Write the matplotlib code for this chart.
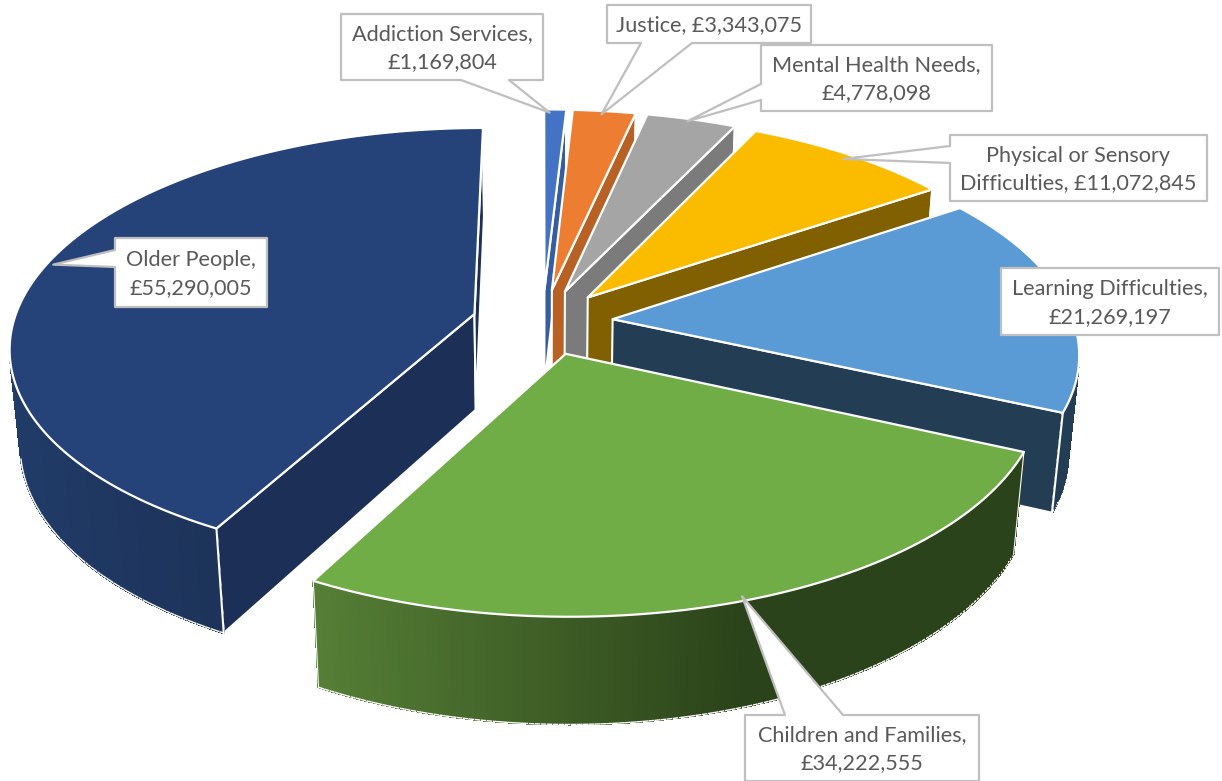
"""Exploded 3D pie of spend by care group, drawn with polygons in a pixel-sized axes."""
import matplotlib
matplotlib.use("Agg")
import matplotlib.pyplot as plt
import numpy as np
from matplotlib.colors import to_rgb
from matplotlib.patches import Polygon

plt.rcParams["font.family"] = ["Lato", "DejaVu Sans"]

categories = ["Addiction Services", "Justice", "Mental Health Needs",
              "Physical or Sensory\nDifficulties", "Learning Difficulties",
              "Children and Families", "Older People"]
values = [1169804, 3343075, 4778098, 11072845, 21269197, 34222555, 55290005]
top_colours = ["#4472c4", "#ed7d31", "#a5a5a5", "#fbbc00", "#5b9bd5", "#70ad47", "#254279"]
face_colours = ["#355d9f", "#b86125", "#7b7b7b", "#806000", "#233e54", "#2b431a", "#1b2f57"]
# wall shading: colour at the left end, colour at the right end, screen x range
wall_shades = [None, None, None, None, None,
               ("#567f36", "#2b431a", 318, 740),
               ("#213c69", "#1d3359", 15, 220)]

# view of the pie, in pixels
CX, CY = 542.5, 322
RX, RY = 461, 215
PERSP, DROP_PERSP = 0.144, 0.02
EXPLODE = 0.153
DEPTH = 98


def project(theta, r, mid, z=0.0):
    """Disc point (clockwise from the back) of a slice pushed out along its mid angle."""
    px = r * np.sin(theta) + EXPLODE * np.sin(mid)
    py = -r * np.cos(theta) - EXPLODE * np.cos(mid)
    f = 1 / (1 - PERSP * py + DROP_PERSP * z)
    return np.column_stack([CX + RX * px * f, CY + RY * py * f + DEPTH * z * f])


def area(points):
    p = np.asarray(points)
    q = np.roll(p, -1, axis=0)
    return 0.5 * np.sum(p[:, 0] * q[:, 1] - q[:, 0] * p[:, 1])


def mix(shade, x):
    c1, c2, x1, x2 = shade
    t = np.clip((x - x1) / (x2 - x1), 0, 1)
    return tuple((1 - t) * a + t * b for a, b in zip(to_rgb(c1), to_rgb(c2)))


fig = plt.figure(figsize=(12.22, 7.81), dpi=100)
ax = fig.add_axes([0, 0, 1, 1])
ax.set_xlim(0, 1222)
ax.set_ylim(781, 0)
ax.axis("off")

edges = np.cumsum([0] + values) / sum(values) * 2 * np.pi
mids = (edges[:-1] + edges[1:]) / 2

# back slices first, the front one last
for i in [0, 1, 2, 3, 4, 6, 5]:
    a0, a1, mid = edges[i], edges[i + 1], mids[i]
    arc = np.linspace(a0, a1, max(8, int((a1 - a0) * 90)))
    one = np.ones_like(arc)
    rim_top = project(arc, one, mid * one)
    rim_low = project(arc, one, mid * one, 1.0)
    apex_top = project(np.array([a0]), np.array([0.0]), np.array([mid]))[0]
    apex_low = project(np.array([a0]), np.array([0.0]), np.array([mid]), 1.0)[0]

    # only the faces that look towards the viewer
    for k, sign in ((0, -1), (-1, 1)):
        quad = [apex_top, rim_top[k], rim_low[k], apex_low]
        if area(quad) * sign > 0:
            ax.add_patch(Polygon(quad, closed=True, facecolor=face_colours[i],
                                 edgecolor="white", lw=1.5, joinstyle="round"))
    for j in range(len(arc) - 1):
        quad = [rim_top[j], rim_top[j + 1], rim_low[j + 1], rim_low[j]]
        if area(quad) >= 0:
            continue
        shade = wall_shades[i]
        col = mix(shade, rim_low[j, 0]) if shade else face_colours[i]
        ax.add_patch(Polygon(quad, closed=True, facecolor=col, edgecolor=col, lw=0.8,
                             antialiased=False))
        ax.plot(rim_low[j:j + 2, 0], rim_low[j:j + 2, 1], color="white", lw=1.0, zorder=1)
    for k, sign in ((0, -1), (-1, 1)):
        quad = [apex_top, rim_top[k], rim_low[k], apex_low]
        lw = 1.5 if area(quad) * sign > 0 else 0.8
        ax.plot([rim_top[k, 0], rim_low[k, 0]], [rim_top[k, 1], rim_low[k, 1]],
                color="white", lw=lw, zorder=1)
    ax.add_patch(Polygon(np.vstack([apex_top, rim_top]), closed=True, facecolor=top_colours[i],
                         edgecolor="white", lw=1.6, joinstyle="round"))

# label boxes: left, top, right, bottom, side the pointer leaves from, pointer base,
# pointer reach along the radius, pointer position across the slice
boxes = [
    (341, 14, 543, 80, "bottom", (461, 509), 0.98, 0.25),
    (607, 5, 811, 43, "bottom", (641, 692), 0.98, 0.47),
    (761, 45, 992, 111, "left", (84, 100), 0.985, 0.47),
    (950, 135, 1207, 201, "left", (146, 163), 0.97, 0.5),
    (1001, 268, 1219, 335, None, None, 0.0, 0.5),
    (745, 715, 979, 781, "top", (785, 843), 0.985, 0.5),
    (115, 238, 267, 307, "left", (250, 267), 0.985, 0.5),
]
for i, (x0, y0, x1, y1, side, base, reach, across) in enumerate(boxes):
    if side is None:
        outline = [(x0, y0), (x1, y0), (x1, y1), (x0, y1)]
    else:
        at = edges[i] + across * (edges[i + 1] - edges[i])
        tip = tuple(project(np.array([at]), np.array([reach]), np.array([mids[i]]))[0])
        if side == "bottom":
            outline = [(x0, y0), (x1, y0), (x1, y1), (base[1], y1), tip, (base[0], y1), (x0, y1)]
        elif side == "top":
            outline = [(x0, y0), (base[0], y0), tip, (base[1], y0), (x1, y0), (x1, y1), (x0, y1)]
        else:
            outline = [(x0, y0), (x1, y0), (x1, y1), (x0, y1), (x0, base[1]), tip, (x0, base[0])]
    ax.add_patch(Polygon(outline, closed=True, facecolor="white", edgecolor="#bfbfbf",
                         lw=1.6, joinstyle="round", zorder=5))
    name = categories[i]
    money = f"£{values[i]:,}"
    if "\n" in name or y1 - y0 < 50:
        text = f"{name}, {money}"
    else:
        text = f"{name},\n{money}"
    ax.text((x0 + x1) / 2, (y0 + y1) / 2 + 1.5, text, ha="center", va="center", fontsize=15.6,
            color="#595959", linespacing=1.5, zorder=6)

fig.savefig("out.png", dpi=100)
